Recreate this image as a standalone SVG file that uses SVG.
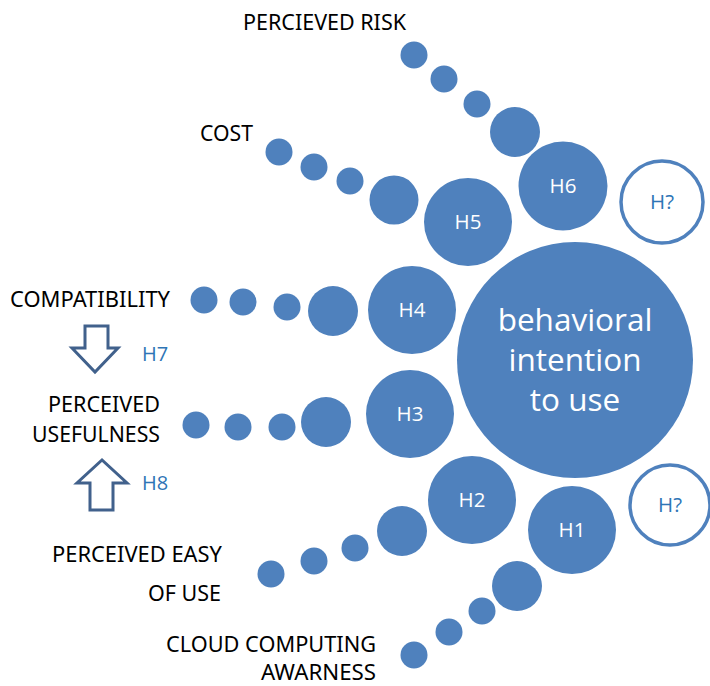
<svg xmlns="http://www.w3.org/2000/svg" width="710" height="686" viewBox="0 0 710 686">
<style>
.c{fill:#4f81bd}
.o{fill:#fff;stroke:#4f81bd;stroke-width:3.5}
.lb{font-family:"Noto Sans","Open Sans","Liberation Sans",sans-serif;font-size:21px;fill:#000}
.h{font-family:"Open Sans","Liberation Sans",sans-serif;font-size:20.5px;fill:#fff;text-anchor:middle}
.hq{font-family:"Open Sans","Liberation Sans",sans-serif;font-size:20.5px;fill:#2e75b6;text-anchor:middle}
.hb{font-family:"Open Sans","Liberation Sans",sans-serif;font-size:20px;fill:#2e75b6}
.big{font-family:"Open Sans","Liberation Sans",sans-serif;font-size:31.5px;fill:#fff;text-anchor:middle}
.ar{fill:#fff;stroke:#41618c;stroke-width:3;stroke-linejoin:miter}
</style>
<g id="center">
<circle class="c" cx="575" cy="360" r="118"/>
<text class="big" x="575" y="331">behavioral</text>
<text class="big" x="575" y="371">intention</text>
<text class="big" x="575" y="411">to use</text>
</g>
<g id="risk">
<text class="lb" x="243" y="30" textLength="163" lengthAdjust="spacingAndGlyphs">PERCIEVED RISK</text>
<circle class="c" cx="414" cy="55" r="13.5"/>
<circle class="c" cx="444" cy="79" r="13.5"/>
<circle class="c" cx="477" cy="104" r="13.5"/>
<circle class="c" cx="515" cy="132" r="25"/>
<circle class="c" cx="563" cy="186" r="44.5"/>
<text class="h" x="563" y="193">H6</text>
</g>
<g id="cost">
<text class="lb" x="200" y="141" textLength="53" lengthAdjust="spacingAndGlyphs">COST</text>
<circle class="c" cx="279" cy="152" r="13.5"/>
<circle class="c" cx="314" cy="167" r="13.5"/>
<circle class="c" cx="350" cy="181" r="13.5"/>
<circle class="c" cx="394" cy="200" r="24.5"/>
<circle class="c" cx="468" cy="222" r="44"/>
<text class="h" x="468" y="229">H5</text>
</g>
<g id="compat">
<text class="lb" x="10" y="307" textLength="160" lengthAdjust="spacingAndGlyphs">COMPATIBILITY</text>
<circle class="c" cx="204" cy="300" r="13.5"/>
<circle class="c" cx="243" cy="302" r="13.5"/>
<circle class="c" cx="287" cy="307" r="13.5"/>
<circle class="c" cx="333" cy="311" r="25"/>
<circle class="c" cx="412" cy="310" r="44"/>
<text class="h" x="412" y="317">H4</text>
</g>
<g id="usefulness">
<text class="lb" x="48" y="412" textLength="112" lengthAdjust="spacingAndGlyphs">PERCEIVED</text>
<text class="lb" x="32" y="442" textLength="128" lengthAdjust="spacingAndGlyphs">USEFULNESS</text>
<circle class="c" cx="196" cy="425" r="13.5"/>
<circle class="c" cx="238" cy="427" r="13.5"/>
<circle class="c" cx="282" cy="427" r="13.5"/>
<circle class="c" cx="326" cy="422" r="25"/>
<circle class="c" cx="410" cy="414" r="44"/>
<text class="h" x="410" y="421">H3</text>
</g>
<g id="easy">
<text class="lb" x="52" y="562" textLength="170" lengthAdjust="spacingAndGlyphs">PERCEIVED EASY</text>
<text class="lb" x="148" y="601" textLength="73" lengthAdjust="spacingAndGlyphs">OF USE</text>
<circle class="c" cx="271" cy="574" r="13.5"/>
<circle class="c" cx="314" cy="561" r="13.5"/>
<circle class="c" cx="355" cy="548" r="13.5"/>
<circle class="c" cx="402" cy="531" r="25"/>
<circle class="c" cx="472" cy="500" r="44"/>
<text class="h" x="472" y="507">H2</text>
</g>
<g id="cloud">
<text class="lb" x="166" y="652" textLength="210" lengthAdjust="spacingAndGlyphs">CLOUD COMPUTING</text>
<text class="lb" x="261" y="680" textLength="115" lengthAdjust="spacingAndGlyphs">AWARNESS</text>
<circle class="c" cx="414" cy="655" r="13.5"/>
<circle class="c" cx="449" cy="632" r="13.5"/>
<circle class="c" cx="482" cy="611" r="13.5"/>
<circle class="c" cx="517" cy="586" r="25"/>
<circle class="c" cx="572" cy="530" r="44"/>
<text class="h" x="572" y="537">H1</text>
</g>
<g id="hq1">
<circle class="o" cx="662" cy="202" r="41"/>
<text class="hq" x="662" y="209">H?</text>
</g>
<g id="hq2">
<circle class="o" cx="670" cy="505" r="40"/>
<text class="hq" x="670" y="512">H?</text>
</g>
<g id="connectors">
<path class="ar" d="M85,326 H108 V348 H118 L95,372 L72,348 H85 Z"/>
<text class="hb" x="142" y="361">H7</text>
<path class="ar" d="M90,510 H113 V483 H127 L102,460 L77,483 H90 Z"/>
<text class="hb" x="142" y="490">H8</text>
</g>
</svg>
